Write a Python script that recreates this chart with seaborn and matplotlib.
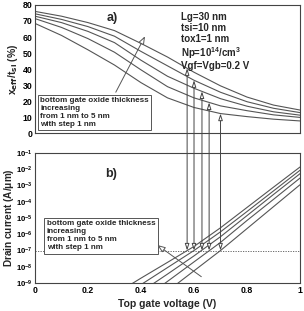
#!/usr/bin/env python3
# x_eff/t_si and drain current vs top gate voltage, two stacked panels

import numpy as np
import pandas as pd
import matplotlib.pyplot as plt
import seaborn as sns
from matplotlib.patches import ConnectionPatch
from matplotlib.ticker import MultipleLocator, LogLocator, NullFormatter

# ============================================================================
# DATA
# ============================================================================
tox_nm = [1, 2, 3, 4, 5]

v_top = [0.0, 0.1, 0.2, 0.3, 0.4, 0.5, 0.6, 0.7, 0.8, 0.9, 1.0]
xeff_1 = [68.5, 61, 52, 42.5, 31.5, 22, 16, 12.2, 10.3, 8.7, 7.6]
xeff_2 = [71.5, 66, 59, 50.5, 39.5, 29, 22, 17, 14, 11.4, 9.8]
xeff_3 = [73, 69, 63.5, 56.5, 45.5, 35.5, 28, 21.5, 16.8, 13.3, 11.2]
xeff_4 = [74.5, 71, 66.5, 60.5, 51, 42, 33, 25.5, 19.6, 15.5, 12.8]
xeff_5 = [76, 73, 69, 64, 56, 47.5, 38, 29.5, 22.5, 17.5, 14.4]

v_bot = [0.3, 0.4, 0.5, 0.6, 0.7, 0.8, 0.9, 1.0]
logid_1 = [-12.0, -10.75, -9.5, -8.25, -7.0, -5.65, -4.3, -2.95]
logid_2 = [-11.3, -10.1, -8.9, -7.7, -6.5, -5.15, -3.85, -2.54]
logid_3 = [-10.65, -9.55, -8.45, -7.33, -6.15, -4.85, -3.55, -2.27]
logid_4 = [-10.15, -9.1, -8.05, -7.0, -5.85, -4.6, -3.33, -2.06]
logid_5 = [-9.7, -8.7, -7.73, -6.75, -5.6, -4.35, -3.1, -1.86]

# threshold voltage (Id = 1e-7 A/um) for each oxide thickness
vth = [0.70, 0.657, 0.63, 0.60, 0.574]
id_ref = 1e-7

xeff_all = [xeff_1, xeff_2, xeff_3, xeff_4, xeff_5]
logid_all = [logid_1, logid_2, logid_3, logid_4, logid_5]

df_top = pd.concat([pd.DataFrame({"V": v_top, "xeff": y, "tox": t})
                    for y, t in zip(xeff_all, tox_nm)])
df_bot = pd.concat([pd.DataFrame({"V": v_bot, "Id": 10.0 ** np.array(y), "tox": t})
                    for y, t in zip(logid_all, tox_nm)])

# ============================================================================
# THEME SETTINGS
# ============================================================================
sns.set_theme(style="white")
plt.rcParams['font.family'] = ['Liberation Sans', 'DejaVu Sans']
plt.rcParams['font.weight'] = 'bold'
plt.rcParams['mathtext.default'] = 'bf'
plt.rcParams['axes.edgecolor'] = '#444444'
plt.rcParams['axes.linewidth'] = 0.8

line_col = '#555555'
pal = [line_col] * len(tox_nm)
box_text = "bottom gate oxide thickness\nincreasing\nfrom 1 nm to 5 nm\nwith step 1 nm"
arrow_open = '-|>,head_length=0.4,head_width=0.15'

# ============================================================================
# CREATE PLOT
# ============================================================================
fig = plt.figure(figsize=(3.04, 3.11), dpi=100)
ax1 = fig.add_axes([0.115, 0.572, 0.872, 0.412])
ax2 = fig.add_axes([0.115, 0.090, 0.872, 0.418])

# --- panel a
sns.lineplot(data=df_top, x="V", y="xeff", hue="tox", palette=pal,
             legend=False, lw=0.8, ax=ax1)
ax1.set_xlim(0, 1)
ax1.set_ylim(0, 80)
ax1.yaxis.set_major_locator(MultipleLocator(10))
ax1.yaxis.set_minor_locator(MultipleLocator(2))
ax1.xaxis.set_major_locator(MultipleLocator(0.2))
ax1.xaxis.set_minor_locator(MultipleLocator(0.04))
ax1.set_xticklabels([])
ax1.set_xlabel("")
ax1.set_ylabel(r"x$_{eff}$/t$_{si}$ (%)", fontsize=7.5, fontweight='bold', labelpad=2)

ax1.text(0.27, 0.90, "a)", transform=ax1.transAxes, fontsize=9,
         fontweight='bold', va='center')
ax1.text(0.55, 0.945,
         "Lg=30 nm\ntsi=10 nm\ntox1=1 nm\nNp=10$^{\\mathregular{14}}$/cm$^{\\mathregular{3}}$\nVgf=Vgb=0.2 V",
         transform=ax1.transAxes, fontsize=7, fontweight='bold', va='top',
         linespacing=1.1)
ax1.text(0.02, 0.04, box_text, transform=ax1.transAxes, fontsize=5.8,
         fontweight='bold', va='bottom', linespacing=1.2,
         bbox=dict(boxstyle='square,pad=0.3', fc='white', ec='#555555', lw=0.7))
ax1.annotate("", xy=(0.42, 62), xytext=(0.30, 24),
             arrowprops=dict(arrowstyle=arrow_open, fc='white', ec='#555555', lw=0.7))

# --- panel b
sns.lineplot(data=df_bot, x="V", y="Id", hue="tox", palette=pal,
             legend=False, lw=0.8, ax=ax2)
ax2.set_yscale('log')
ax2.set_xlim(0, 1)
ax2.set_ylim(1e-9, 1e-1)
ax2.yaxis.set_major_locator(LogLocator(base=10, numticks=20))
ax2.yaxis.set_minor_locator(LogLocator(base=10, subs=np.arange(2, 10), numticks=20))
ax2.yaxis.set_minor_formatter(NullFormatter())
ax2.xaxis.set_minor_locator(MultipleLocator(0.04))
ax2.set_xticks([0, 0.2, 0.4, 0.6, 0.8, 1.0])
ax2.set_xticklabels(["0", "0.2", "0.4", "0.6", "0.8", "1"])
ax2.axhline(id_ref, color='#555555', lw=0.6, ls=(0, (1.5, 1.5)))
ax2.set_xlabel("Top gate voltage (V)", fontsize=7.5, fontweight='bold', labelpad=3)
ax2.set_ylabel(r"Drain current (A/$\mathregular{\mu}$m)", fontsize=7.2,
               fontweight='bold', labelpad=0)

ax2.text(0.265, 0.84, "b)", transform=ax2.transAxes, fontsize=9,
         fontweight='bold', va='center')
ax2.text(0.045, 0.245, box_text, transform=ax2.transAxes, fontsize=5.8,
         fontweight='bold', va='bottom', linespacing=1.2,
         bbox=dict(boxstyle='square,pad=0.3', fc='white', ec='#555555', lw=0.7))
ax2.annotate("", xy=(0.453, 10 ** -6.56), xytext=(0.636, 10 ** -8.71),
             arrowprops=dict(arrowstyle=arrow_open, fc='white', ec='#555555', lw=0.7))

for ax in (ax1, ax2):
    ax.tick_params(axis='both', which='both', direction='in', colors='#444444',
                   labelcolor='black', labelsize=6.3, pad=2)
    ax.tick_params(which='major', length=3.5, width=0.6)
    ax.tick_params(which='minor', length=1.8, width=0.5)
    for lab in ax.get_xticklabels() + ax.get_yticklabels():
        lab.set_fontweight('bold')
ax2.tick_params(axis='y', labelsize=5.6, pad=1.5)

# --- vertical connectors from threshold points to x_eff curves
for v, y in zip(vth, xeff_all):
    y_top = np.interp(v, v_top, y)
    con = ConnectionPatch(xyA=(v, id_ref), coordsA=ax2.transData,
                          xyB=(v, y_top), coordsB=ax1.transData,
                          arrowstyle='<|-|>,head_length=0.4,head_width=0.13',
                          fc='white', ec='#444444', lw=0.7)
    fig.add_artist(con)

# ============================================================================
# SAVE OUTPUT
# ============================================================================
plt.savefig("out.png", dpi=100)
plt.close()
